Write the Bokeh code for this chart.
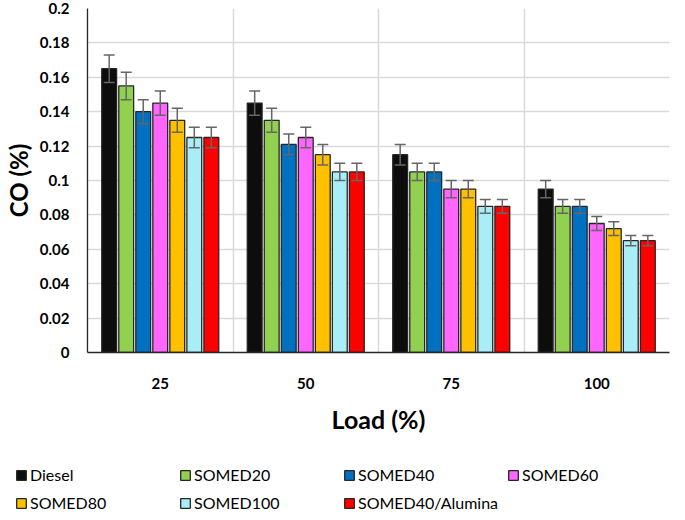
from bokeh.plotting import figure
from bokeh.models import (ColumnDataSource, Range1d, FixedTicker, Whisker, TeeHead,
                          Legend, LegendItem)
from bokeh.transform import dodge
from bokeh.embed import file_html
from bokeh.resources import INLINE

loads = ["25", "50", "75", "100"]
series = ["Diesel", "SOMED20", "SOMED40", "SOMED60", "SOMED80", "SOMED100", "SOMED40/Alumina"]
colors = ["#0d0d0d", "#92d050", "#0070c0", "#ff66ff", "#ffc000", "#a9eef6", "#ff0000"]

diesel = [0.165, 0.145, 0.115, 0.095]
somed20 = [0.155, 0.135, 0.105, 0.085]
somed40 = [0.140, 0.121, 0.105, 0.085]
somed60 = [0.145, 0.125, 0.095, 0.075]
somed80 = [0.135, 0.115, 0.095, 0.072]
somed100 = [0.125, 0.105, 0.085, 0.065]
alumina = [0.125, 0.105, 0.085, 0.065]

err_diesel = [0.008, 0.007, 0.006, 0.005]
err_somed20 = [0.008, 0.007, 0.005, 0.004]
err_somed40 = [0.007, 0.006, 0.005, 0.004]
err_somed60 = [0.007, 0.006, 0.005, 0.004]
err_somed80 = [0.007, 0.006, 0.005, 0.004]
err_somed100 = [0.006, 0.005, 0.004, 0.003]
err_alumina = [0.006, 0.005, 0.004, 0.003]

values = [diesel, somed20, somed40, somed60, somed80, somed100, alumina]
errors = [err_diesel, err_somed20, err_somed40, err_somed60, err_somed80, err_somed100, err_alumina]

FONT = "Lato"
xpos = [i + 0.5 for i in range(len(loads))]

p = figure(width=670, height=436, output_backend="svg", toolbar_location=None,
           x_range=Range1d(0, 4), y_range=Range1d(0, 0.2),
           min_border_left=79, min_border_right=1, min_border_top=8, min_border_bottom=6)
p.outline_line_color = None
p.background_fill_color = "white"

slot = 0.117
bar_w = 0.102
bar_line = "#262626"
sources = []
for i, (name, col, vals, errs) in enumerate(zip(series, colors, values, errors)):
    src = ColumnDataSource(dict(x=xpos, top=vals,
                                upper=[v + e for v, e in zip(vals, errs)],
                                lower=[v - e for v, e in zip(vals, errs)]))
    sources.append(src)
    off = (i - 3) * slot
    p.vbar(x=dodge("x", off, range=p.x_range), top="top", width=bar_w, source=src,
           fill_color=col, line_color=bar_line, line_width=1.3)
    w = Whisker(base=dodge("x", off, range=p.x_range), upper="upper", lower="lower", source=src,
                line_color="#666666", line_width=1.5, level="overlay",
                upper_head=TeeHead(size=11, line_color="#666666", line_width=1.5),
                lower_head=TeeHead(size=11, line_color="#666666", line_width=1.5))
    p.add_layout(w)

# axes
yt = [0, 0.02, 0.04, 0.06, 0.08, 0.1, 0.12, 0.14, 0.16, 0.18, 0.2]
ylabels = ["0", "0.02", "0.04", "0.06", "0.08", "0.1", "0.12", "0.14", "0.16", "0.18", "0.2"]
p.yaxis.ticker = FixedTicker(ticks=yt)
p.yaxis.major_label_overrides = {t: l for t, l in zip(yt, ylabels)}
p.xaxis.ticker = FixedTicker(ticks=xpos)
p.xaxis.major_label_overrides = {x: l for x, l in zip(xpos, loads)}

for ax in (p.xaxis, p.yaxis):
    ax.major_tick_line_color = None
    ax.minor_tick_line_color = None
    ax.axis_line_color = "#262626"
    ax.axis_line_width = 1.3
    ax.major_label_text_font = FONT
    ax.major_label_text_font_style = "bold"
    ax.major_label_text_font_size = "15px"
    ax.major_label_text_color = "#000000"
    ax.axis_label_text_font = FONT
    ax.axis_label_text_font_style = "bold"
    ax.axis_label_text_color = "#000000"

p.yaxis.axis_label = "CO (%)"
p.yaxis.axis_label_text_font_size = "24px"
p.yaxis.major_label_standoff = 12
p.yaxis.axis_label_standoff = 4
p.xaxis.axis_label = "Load (%)"
p.xaxis.axis_label_text_font_size = "25px"
p.xaxis.major_label_standoff = 19
p.xaxis.axis_label_standoff = 12

p.ygrid.grid_line_color = "#d9d9d9"
p.ygrid.grid_line_width = 1.5
p.xgrid.ticker = FixedTicker(ticks=[1, 2, 3, 4])
p.xgrid.grid_line_color = "#d9d9d9"
p.xgrid.grid_line_width = 1.5

# legend panel (separate root so its frame is not aligned with the chart's)
LH = 76
q = figure(width=670, height=LH, output_backend="svg", toolbar_location=None,
           x_range=Range1d(0, 4), y_range=Range1d(0, 0.2),
           x_axis_type=None, y_axis_type=None,
           min_border=0, min_border_left=0, min_border_right=0,
           min_border_top=0, min_border_bottom=0)
q.grid.visible = False
q.outline_line_color = None
swatches = []
for col, src in zip(colors, sources):
    r = q.vbar(x="x", top="top", width=bar_w, source=src,
               fill_color=col, line_color=bar_line, line_width=1.3)
    r.visible = False
    swatches.append(r)

def make_legend(idx, loc):
    return Legend(items=[LegendItem(label=series[i], renderers=[swatches[i]]) for i in idx],
                  orientation="horizontal", location=loc, click_policy="none",
                  label_text_font=FONT, label_text_font_size="16px", label_text_color="#000000",
                  glyph_width=12, glyph_height=12, label_standoff=3, label_width=141,
                  label_height=16, spacing=8, padding=0, margin=0, border_line_color=None,
                  background_fill_alpha=0)

q.add_layout(make_legend([0, 1, 2, 3], (15, 28)))
q.add_layout(make_legend([4, 5, 6], (15, 0)))

open("out.html", "w").write(file_html([p, q], INLINE))
